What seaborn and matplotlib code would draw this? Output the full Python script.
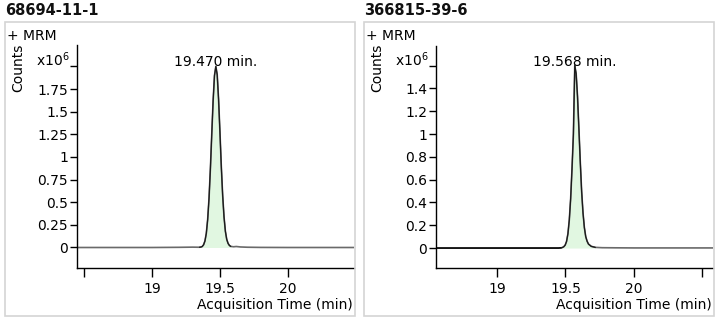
import matplotlib
matplotlib.use("Agg")
import matplotlib.pyplot as plt
import matplotlib.patches as mpatches
import seaborn as sns
import pandas as pd

# ---------------- data ----------------
titles = ["68694-11-1", "366815-39-6"]
peak_times = [19.470, 19.568]
peak_labels = ["19.470 min.", "19.568 min."]

# panel 1 trace (time in min, counts in 1e6)
time_1 = [18.45, 19.00, 19.20, 19.30, 19.34, 19.35, 19.36, 19.37, 19.38, 19.39,
          19.40, 19.41, 19.42, 19.43, 19.44, 19.45, 19.46, 19.47, 19.48, 19.49,
          19.50, 19.51, 19.52, 19.53, 19.54, 19.55, 19.56, 19.57, 19.58, 19.60,
          19.62, 19.65, 19.70, 19.80, 20.00, 20.50]
counts_1 = [0.000, 0.000, 0.002, 0.004, 0.003, 0.003, 0.005, 0.011, 0.030, 0.072,
            0.156, 0.310, 0.545, 0.870, 1.250, 1.620, 1.900, 2.000, 1.910, 1.640,
            1.280, 0.900, 0.580, 0.340, 0.180, 0.090, 0.045, 0.022, 0.012, 0.008,
            0.011, 0.006, 0.003, 0.001, 0.000, 0.000]
peak_window_1 = (19.35, 19.58)

# panel 2 trace
time_2 = [18.55, 19.00, 19.30, 19.45, 19.468, 19.478, 19.488, 19.498, 19.508, 19.518,
          19.528, 19.538, 19.548, 19.558, 19.568, 19.578, 19.588, 19.598, 19.608,
          19.618, 19.628, 19.638, 19.648, 19.658, 19.668, 19.688, 19.718, 19.768,
          19.868, 20.00, 20.58]
counts_2 = [0.000, 0.000, 0.000, 0.000, 0.002, 0.005, 0.012, 0.026, 0.058, 0.125,
            0.246, 0.435, 0.700, 1.000, 1.600, 1.530, 1.330, 1.050, 0.760,
            0.500, 0.310, 0.180, 0.100, 0.060, 0.035, 0.015, 0.006, 0.003,
            0.002, 0.001, 0.001]
peak_window_2 = (19.468, 19.72)

y_ticks_1 = [0, 0.25, 0.5, 0.75, 1, 1.25, 1.5, 1.75, 2.0]
y_ticklabels_1 = ["0", "0.25", "0.5", "0.75", "1", "1.25", "1.5", "1.75", ""]
y_ticks_2 = [0, 0.2, 0.4, 0.6, 0.8, 1.0, 1.2, 1.4, 1.6]
y_ticklabels_2 = ["0", "0.2", "0.4", "0.6", "0.8", "1", "1.2", "1.4", ""]
x_ticks_1 = [18.5, 19, 19.5, 20]
x_ticklabels_1 = ["", "19", "19.5", "20"]
x_ticks_2 = [19, 19.5, 20, 20.5]
x_ticklabels_2 = ["19", "19.5", "20", ""]

# ---------------- style ----------------
sns.set_theme(style="white")
plt.rcParams["font.family"] = ["DejaVu Sans"]
plt.rcParams["mathtext.default"] = "regular"

W, H = 719, 322
fig = plt.figure(figsize=(W / 100, H / 100), dpi=100)
fig.patch.set_facecolor("white")

def fx(px):
    return px / W

def fy(py):
    return 1 - py / H

panels = [
    dict(time=time_1, counts=counts_1, win=peak_window_1, title=titles[0],
         pt=peak_times[0], plabel=peak_labels[0],
         yt=y_ticks_1, ytl=y_ticklabels_1, xt=x_ticks_1, xtl=x_ticklabels_1,
         xlim=(18.45, 20.485), ylim=(-0.2265, 2.237),
         box=(5, 22, 355, 316), ax_px=(77, 45, 354, 268), pre_black=False),
    dict(time=time_2, counts=counts_2, win=peak_window_2, title=titles[1],
         pt=peak_times[1], plabel=peak_labels[1],
         yt=y_ticks_2, ytl=y_ticklabels_2, xt=x_ticks_2, xtl=x_ticklabels_2,
         xlim=(18.555, 20.577), ylim=(-0.175, 1.772),
         box=(364, 22, 714, 316), ax_px=(436, 46, 713, 268), pre_black=True),
]

for p in panels:
    bx0, by0, bx1, by1 = p["box"]
    fig.patches.append(mpatches.Rectangle((fx(bx0), fy(by1)), fx(bx1 - bx0), (by1 - by0) / H,
                                          transform=fig.transFigure, fill=False,
                                          edgecolor="#d4d4d4", linewidth=1.2, zorder=0))
    fig.text(fx(bx0), fy(15), p["title"], fontsize=10.5, fontweight="bold",
             ha="left", va="baseline", color="#111111")
    fig.text(fx(bx0 + 2), fy(40), "+ MRM", fontsize=10, ha="left", va="baseline", color="black")

    ax0, ay0, ax1, ay1 = p["ax_px"]
    ax = fig.add_axes([fx(ax0), fy(ay1), fx(ax1 - ax0), (ay1 - ay0) / H])
    ax.set_facecolor("none")

    df = pd.DataFrame({"time": p["time"], "counts": p["counts"]})
    w0, w1 = p["win"]
    inwin = (df["time"] >= w0) & (df["time"] <= w1)
    ax.fill_between(df["time"][inwin], 0, df["counts"][inwin], color="#e1f7e1", linewidth=0, zorder=1)
    sns.lineplot(data=df, x="time", y="counts", ax=ax, color="#6a6a6a", linewidth=1.2,
                 estimator=None, sort=False, zorder=2)
    if p["pre_black"]:
        pre = df[df["time"] <= w0]
        sns.lineplot(data=pre, x="time", y="counts", ax=ax, color="black", linewidth=1.1,
                     estimator=None, sort=False, zorder=3)
    sns.lineplot(data=df[inwin], x="time", y="counts", ax=ax, color="#1a1a1a", linewidth=0.9,
                 estimator=None, sort=False, zorder=3)

    ax.set_xlim(*p["xlim"])
    ax.set_ylim(*p["ylim"])
    ax.set_xticks(p["xt"])
    ax.set_xticklabels(p["xtl"])
    ax.set_yticks(p["yt"])
    ax.set_yticklabels(p["ytl"])
    ax.set_xlabel("")
    ax.set_ylabel("")
    for s in ["top", "right"]:
        ax.spines[s].set_visible(False)
    for s in ["left", "bottom"]:
        ax.spines[s].set_color("black")
        ax.spines[s].set_linewidth(1.0)
    ax.tick_params(axis="x", direction="out", length=6.5, width=1, color="black",
                   labelsize=10, pad=3.5, labelcolor="black", bottom=True)
    ax.tick_params(axis="y", direction="out", length=5, width=1, color="black",
                   labelsize=10, pad=1.5, labelcolor="black", left=True)
    ax.grid(False)

    peak_val = max(p["counts"])
    ax.text(p["pt"], peak_val, p["plabel"], ha="center", va="baseline", fontsize=10, color="black")

    fig.text(fx(ax0 - 7), fy(66), r"x10$^{6}$", ha="right", va="baseline", fontsize=10, color="black")
    fig.text(fx(bx0 + 13), fy(68), "Counts", rotation=90, ha="center", va="center",
             fontsize=10, color="black")
    fig.text(fx(bx1 - 2), fy(309), "Acquisition Time (min)", ha="right", va="baseline",
             fontsize=10, color="black")

fig.savefig("out.png", dpi=100, facecolor="white")
